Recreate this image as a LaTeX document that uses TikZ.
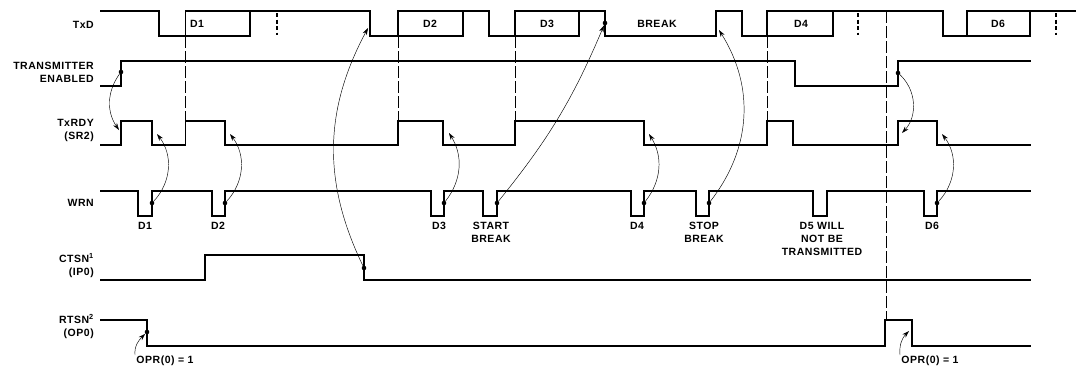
\documentclass[tikz,border=0pt]{standalone}
\usepackage{fontspec}
\setmainfont{Liberation Sans}
\newfontfamily\lblfont[LetterSpace=5]{Liberation Sans}
\usetikzlibrary{arrows.meta}
\tikzset{
  sig/.style={line width=1.6pt},
  guide/.style={line width=0.4pt, dash pattern=on 12pt off 3pt},
  stopmark/.style={line width=1.6pt, dash pattern=on 4pt off 2.5pt},
  dot/.style={circle, fill, inner sep=0pt, minimum size=4.6pt},
  lbl/.style={font=\lblfont\fontsize{10.5}{13}\selectfont\bfseries, inner sep=0pt},
  cause/.style={-{Stealth[length=7pt,width=4.5pt]}, line width=0.45pt}
}

\begin{document}
\begin{tikzpicture}[x=1pt,y=-1pt]
    \useasboundingbox (0,0) rectangle (1081,368);

    \node[lbl,anchor=east] (txdl) at (94,25) {TxD};
    \node[lbl,anchor=east,align=right] (tel) at (94,72) {TRANSMITTER\\ENABLED};
    \node[lbl,anchor=east,align=right] (rdyl) at (94,130.5) {TxRDY\\(SR2)};
    \node[lbl,anchor=east] (wrnl) at (94,203) {WRN};
    \node[lbl,anchor=east,align=right] (ctsl) at (94,265.5) {CTSN\textsuperscript{1}\\(IP0)};
    \node[lbl,anchor=east,align=right] (rtsl) at (94,327) {RTSN\textsuperscript{2}\\(OP0)};

    \draw[guide] (185.5,36) -- (185.5,121) (398,36) -- (398,121) (515,36) -- (515,121)
        (767,36) -- (767,121) (886,11) -- (886,320);

    \draw[sig] (100,11) -| (159,36) -| (250,11) -| (370,36) -| (463,11) -| (489,36) -| (579,11)
        -| (605,36) -| (716,11) -| (742,36) -| (833,11) -| (943,36) -| (1030,11) -- (1076,11);
    \draw[sig] (185.5,36) |- (250,11) (398,36) |- (463,11) (515,36) |- (579,11)
        (767,36) |- (833,11) (967,36) |- (1030,11);
    \draw[stopmark] (277,13) -- (277,35) (858,13) -- (858,35) (1056,13) -- (1056,35);
    \draw[sig] (100,86) -| (121,61) -| (795,86) -| (898,61) -- (1031,61);
    \draw[sig] (100,145) -| (121,121) -| (152,145) -| (185.5,121) -| (225,145) -| (398,121)
        -| (443,145) -| (515,121) -| (644,145) -| (767,121) -| (793,145) -| (898,121)
        -| (937,145) -- (1031,145);
    \draw[sig] (100,191) foreach \a/\b in {138/152,212/225,431/444,483/497,631/644,696/709,813/827,924/937}
        { -| (\a,216) -| (\b,191) } -- (1031,191);
    \draw[sig] (100,280) -| (205,255) -| (364,280) -- (1031,280);
    \draw[sig] (100,320) -| (147,346) -| (885,320) -| (912,346) -- (1031,346);

    \node[lbl] (d1) at (197,24) {D1};
    \node[lbl] (d2) at (430,24) {D2};
    \node[lbl] (d3) at (547,24) {D3};
    \node[lbl] (brkl) at (657,24) {BREAK};
    \node[lbl] (d4) at (801,24) {D4};
    \node[lbl] (d6) at (998,24) {D6};

    \node[lbl] (wd1) at (145,226) {D1};
    \node[lbl] (wd2) at (218,226) {D2};
    \node[lbl] (wd3) at (439,226) {D3};
    \node[lbl,align=center] (wsbl) at (491,232.5) {START\\BREAK};
    \node[lbl] (wd4) at (637,226) {D4};
    \node[lbl,align=center] (wstl) at (704,232.5) {STOP\\BREAK};
    \node[lbl,align=center] (wd5) at (822,239) {D5 WILL\\NOT BE\\TRANSMITTED};
    \node[lbl] (wd6) at (932,226) {D6};

    \node[lbl] (opra) at (165,361) {OPR(0) = 1};
    \node[lbl] (oprb) at (930,361) {OPR(0) = 1};

    \node[dot] (te1) at (121,72) {};
    \node[dot] (te2) at (898,73) {};
    \node[dot] (brk) at (605,23) {};
    \node[dot] (w1) at (152,203) {};
    \node[dot] (w2) at (225,203) {};
    \node[dot] (w3) at (444,203) {};
    \node[dot] (wsb) at (497,203) {};
    \node[dot] (w4) at (644,203) {};
    \node[dot] (wst) at (709,203) {};
    \node[dot] (w6) at (937,203) {};
    \node[dot] (ct) at (364,268) {};
    \node[dot] (rt) at (147,332) {};

    \coordinate (r0) at (119,130);
    \coordinate (r1) at (157,134);
    \coordinate (r2) at (230,134);
    \coordinate (r3) at (449,133);
    \coordinate (r4) at (649,134);
    \coordinate (r5) at (902,133);
    \coordinate (r6) at (942,134);
    \coordinate (brkend) at (719,30);
    \coordinate (txd2) at (368,28);
    \coordinate (oa) at (135,355);
    \coordinate (ob) at (900,355);
    \coordinate (obh) at (909,331);

    \path[cause]
    (te1) edge [bend right=35] (r0)
    (w1) edge [bend right=40] (r1)
    (w2) edge [bend right=40] (r2)
    (w3) edge [bend right=35] (r3)
    (wsb) edge [bend right=8] (brk)
    (w4) edge [bend right=35] (r4)
    (wst) edge [bend right=35] (brkend)
    (ct) edge [bend left=27] (txd2)
    (te2) edge [bend left=45] (r5)
    (w6) edge [bend right=40] (r6)
    (oa) edge [out=95,in=225] (rt)
    (ob) edge [out=95,in=225] (obh);
\end{tikzpicture}
\end{document}
